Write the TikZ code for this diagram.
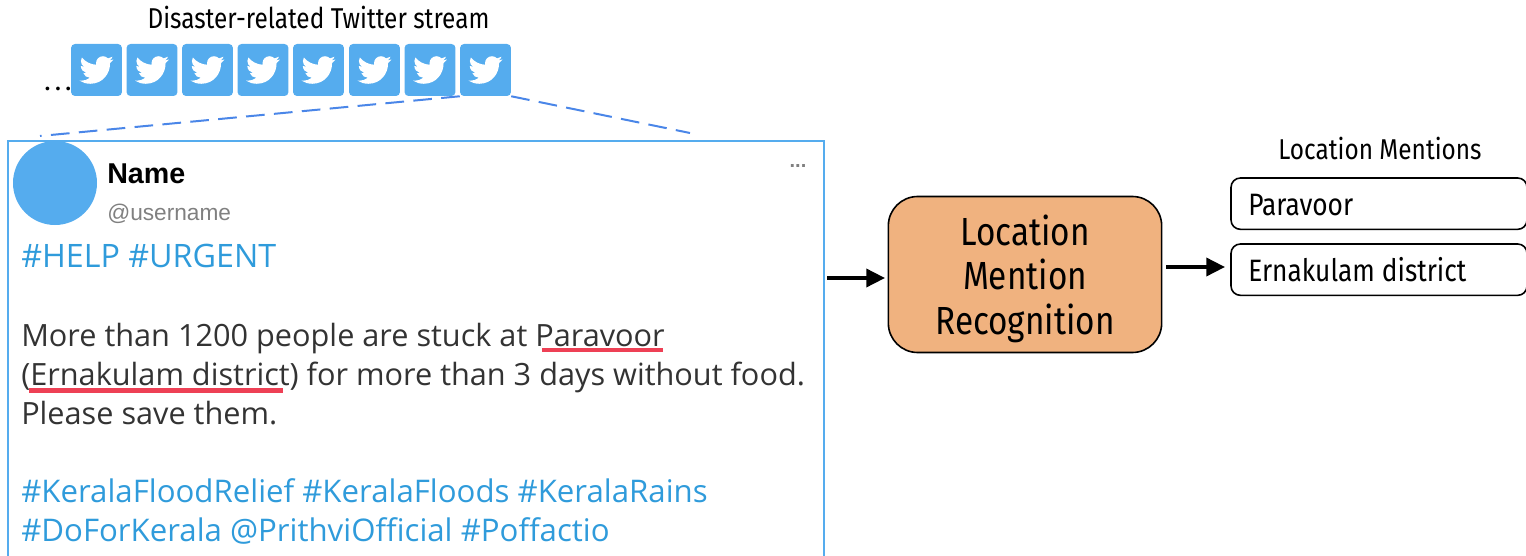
\documentclass[tikz,border=0pt]{standalone}
\usepackage{fontspec}
\setmainfont{Fira Sans}
\newfontfamily\tweetfont{Liberation Sans}
\newfontfamily\bodyfont{Open Sans}
\newfontfamily\labelfont[FakeStretch=0.85]{Fira Sans}
\usetikzlibrary{arrows.meta,svg.path}
\definecolor{tileblue}{HTML}{55ACEE}
\definecolor{tagblue}{HTML}{2F9BDB}
\definecolor{dashblue}{HTML}{4A86E8}
\definecolor{procfill}{HTML}{F0B27F}
\definecolor{markred}{HTML}{EE4055}
\definecolor{bodygray}{HTML}{333333}
\tikzset{
  pics/bird/.style={
    code = {
      \fill[white, xscale=1.06, yscale=-1.06, shift={(-12pt,-12pt)}] svg "M23.953 4.57 C23.07 4.96 22.12 5.23 21.128 5.345 C22.143 4.735 22.923 3.77 23.291 2.622 C22.34 3.177 21.286 3.581 20.164 3.806 C19.27 2.85 17.99 2.25 16.58 2.25 C13.87 2.25 11.66 4.46 11.66 7.17 C11.66 7.55 11.7 7.93 11.78 8.288 C7.69 8.095 4.067 6.13 1.64 3.162 C1.22 3.88 .974 4.73 .974 5.637 C.974 7.347 1.844 8.85 3.162 9.733 C2.354 9.71 1.594 9.49 .934 9.117 L.934 9.177 C.934 11.56 2.63 13.55 4.88 14.004 C4.47 14.11 4.03 14.17 3.59 14.17 C3.27 14.17 2.97 14.14 2.668 14.089 C3.29 16.04 5.1 17.46 7.272 17.506 C5.59 18.83 3.46 19.61 1.17 19.611 C.78 19.611 .391 19.588 0 19.544 C2.19 20.94 4.78 21.753 7.557 21.753 C16.61 21.753 21.555 14.257 21.555 7.768 C21.555 7.558 21.555 7.348 21.54 7.138 C22.5 6.44 23.34 5.58 24 4.59 Z";
    }
  },
  tile/.style={fill=tileblue, rounded corners=3pt, minimum width=38.2pt, minimum height=39pt, inner sep=0pt},
  tag/.style={font=\bodyfont\fontsize{23.4}{23.4}\selectfont, text=tagblue, anchor=base west, inner sep=0pt},
  body/.style={font=\bodyfont\fontsize{23}{23}\selectfont, text=bodygray, anchor=base west, inner sep=0pt},
  mention/.style={draw, line width=1.2pt, rounded corners=7pt, fill=white, minimum width=222pt, minimum height=38.5pt},
  mentext/.style={font=\labelfont\fontsize{23.2}{23.2}\selectfont, anchor=base west, inner sep=0pt},
  flow/.style={-{Triangle[length=14pt,width=13.5pt]}, line width=2.6pt},
  zoomline/.style={dashblue, dash pattern=on 14pt off 7pt, line width=1.5pt}
}

\begin{document}
\begin{tikzpicture}[x=0.75pt, y=-0.75pt]
  \useasboundingbox (0,0) rectangle (1526,556);
  \node (title) [font=\labelfont\fontsize{21.5}{21.5}\selectfont, inner sep=0pt, anchor=base] at (318.5,29) {Disaster-related Twitter stream};
  \node (dots) [font=\fontsize{20}{20}\selectfont, inner sep=0pt, anchor=base] at (58,91) {.\kern3pt.\kern3pt.};
  % stream of tweets
  \foreach \i/\x in {1/96.5,2/152,3/207.5,4/263,5/318.5,6/374.5,7/430,8/485.5}{
    \node (tile\i) [tile] at (\x,70) {};
    \pic at (tile\i) {bird};
  }
  \coordinate (zoomleft) at (40,136);
  \coordinate (zoomright) at (690,133);
  \draw [zoomline] (tile8.south west) -- (zoomleft);
  \draw [zoomline] (tile8.south east) -- (zoomright);
  % tweet
  \node (tweet) [draw=tileblue, line width=1.6pt, minimum width=612pt, minimum height=313pt, inner sep=0pt, anchor=north west] at (6.5,140) {};
  \node (avatar) [circle, fill=tileblue, minimum size=63pt, inner sep=0pt] at (55,183) {};
  \node (name) [font=\tweetfont\bfseries\fontsize{21.5}{21.5}\selectfont, anchor=base west, inner sep=0pt] at (107,183) {Name};
  \node (user) [font=\tweetfont\fontsize{17}{17}\selectfont, text=gray, anchor=base west, inner sep=0pt] at (107,220) {@username};
  \node (more) [font=\tweetfont\bfseries\fontsize{15}{15}\selectfont, text=gray, inner sep=0pt, anchor=base] at (798,167) {...};
  \node (line1) [tag, font=\bodyfont\fontsize{24.2}{24.2}\selectfont] at (21,267) {\#HELP \#URGENT};
  \node (line2) [body] at (21,346) {More than 1200 people are stuck at Paravoor};
  \node (line3) [body] at (21,385) {(Ernakulam district) for more than 3 days without food.};
  \node (line4) [body] at (21,424) {Please save them.};
  \node (line5) [tag] at (21,502) {\#KeralaFloodRelief \#KeralaFloods \#KeralaRains};
  \node (line6) [tag] at (21,541) {\#DoForKerala @PrithviOfficial \#Poffactio};
  \fill [markred] (542,348) rectangle (663,352);
  \fill [markred] (29,388) rectangle (283,393);
  % recognition
  \node (process) [draw, line width=1.2pt, fill=procfill, rounded corners=22pt, minimum width=205pt, minimum height=117pt, inner sep=0pt, align=center, font=\labelfont\fontsize{29.4}{33.7}\selectfont] at (1025,274.5) {\rule{0pt}{29.5pt}Location\\Mention\\Recognition};
  \coordinate (tweetout) at (827,278);
  \coordinate (procin) at (885,278);
  \coordinate (procout) at (1166,267);
  \coordinate (menin) at (1225,267);
  \draw [flow] (tweetout) -- (procin);
  \draw [flow] (procout) -- (menin);
  % output
  \node (outtitle) [font=\labelfont\fontsize{21.5}{21.5}\selectfont, inner sep=0pt, anchor=base] at (1380,160) {Location Mentions};
  \node (out1) [mention, anchor=north west] at (1230.2,177.2) {};
  \node (out2) [mention, anchor=north west] at (1230.2,243.2) {};
  \node (out1text) [mentext] at (1248,215) {Paravoor};
  \node (out2text) [mentext] at (1248,281) {Ernakulam district};
\end{tikzpicture}
\end{document}
